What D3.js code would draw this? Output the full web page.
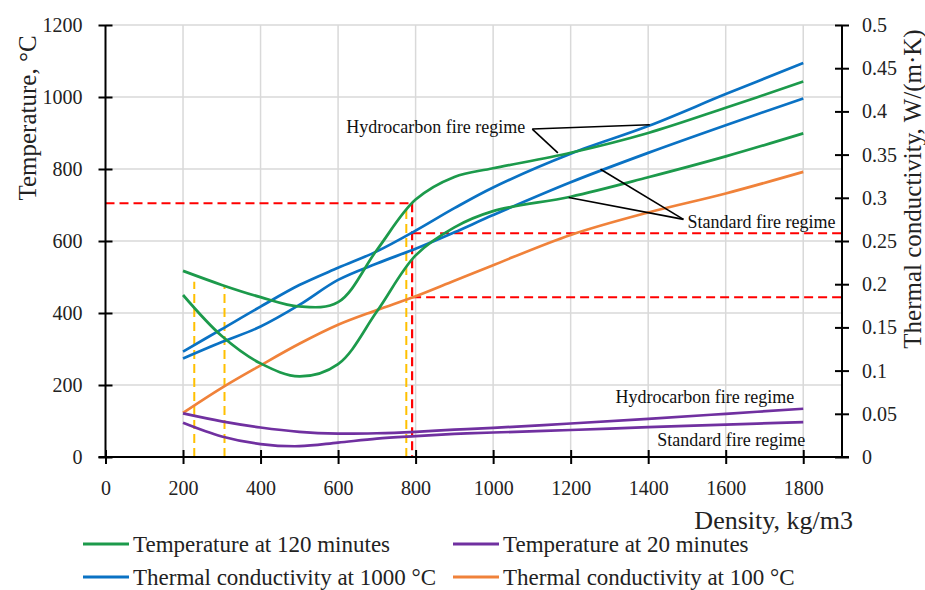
<!DOCTYPE html>
<html>
<head>
<meta charset="utf-8">
<script src="https://cdn.jsdelivr.net/npm/d3@7"></script>
<style>
  html, body { margin: 0; padding: 0; background: #fff; }
  svg { display: block; }
  svg text { font-family: "Liberation Serif", "DejaVu Serif", serif; }
</style>
</head>
<body>
<svg id="chart" width="925" height="590"></svg>
<script>
// ---------------- data ----------------
const density = [200, 300, 400, 500, 600, 700, 800, 900, 1000, 1200, 1400, 1600, 1800];
const temp120Hydro = [517, 478, 444, 418, 430, 575, 715, 778, 802, 845, 900, 970, 1043];
const temp120Std   = [450, 336, 260, 224, 258, 404, 560, 638, 683, 723, 777, 835, 899];
const temp20Hydro  = [121, 99, 82, 70, 65, 66, 70, 76, 81, 93, 106, 120, 134];
const temp20Std    = [95, 57, 36, 30, 40, 51, 58, 64, 68, 75, 83, 90, 97];
const k1000Hydro   = [0.122, 0.148, 0.174, 0.199, 0.219, 0.238, 0.262, 0.288, 0.312, 0.351, 0.383, 0.420, 0.456];
const k1000Std     = [0.114, 0.133, 0.151, 0.176, 0.205, 0.224, 0.241, 0.260, 0.280, 0.318, 0.352, 0.384, 0.415];
const k100         = [0.051, 0.080, 0.106, 0.131, 0.153, 0.170, 0.186, 0.204, 0.222, 0.257, 0.283, 0.305, 0.330];

const xTicks = [0, 200, 400, 600, 800, 1000, 1200, 1400, 1600, 1800];
const tTicks = [0, 200, 400, 600, 800, 1000, 1200];
const kTicks = [0, 0.05, 0.1, 0.15, 0.2, 0.25, 0.3, 0.35, 0.4, 0.45, 0.5];

// reference (dashed) lines
const redDensity = 791;       // kg/m3
const redTemp = 705;          // °C
const redK = [0.259, 0.185];  // W/(m·K)
const goldDensity = [229, 307, 776];
const goldTop = [487, 476, 689];

const legendNames = ["Temperature at 120 minutes", "Temperature at 20 minutes",
                     "Thermal conductivity at 1000 °C", "Thermal conductivity at 100 °C"];

// ---------------- layout ----------------
const FONT = '"Liberation Serif", "DejaVu Serif", serif';
const svg = d3.select("#chart");
const L = 105.5, R = 842, T = 25, B = 457;
const COL = { green: "#1C9A4B", purple: "#7030A0", blue: "#0A72C4", orange: "#F0823A",
              red: "#FF0000", gold: "#FFC000", grid: "#D9D9D9" };

const x = d3.scaleLinear().domain([0, 1900]).range([L, R]);
const yT = d3.scaleLinear().domain([0, 1200]).range([B, T]);
const yK = d3.scaleLinear().domain([0, 0.5]).range([B, T]);

// grid
const grid = svg.append("g");
grid.selectAll(".gv").data(xTicks.filter(d => d > 0)).join("line")
  .attr("x1", d => x(d)).attr("x2", d => x(d)).attr("y1", T).attr("y2", B)
  .attr("stroke", COL.grid).attr("stroke-width", 1.5);
grid.selectAll(".gh").data(tTicks.filter(d => d > 0)).join("line")
  .attr("x1", L).attr("x2", R).attr("y1", d => yT(d)).attr("y2", d => yT(d))
  .attr("stroke", COL.grid).attr("stroke-width", 1.5);

// dashed reference lines
const dash = "9,5";
svg.append("line").attr("x1", x(0)).attr("x2", x(redDensity))
  .attr("y1", yT(redTemp)).attr("y2", yT(redTemp))
  .attr("stroke", COL.red).attr("stroke-width", 2).attr("stroke-dasharray", dash);
svg.append("line").attr("x1", x(redDensity)).attr("x2", x(redDensity))
  .attr("y1", yT(redTemp)).attr("y2", yT(0))
  .attr("stroke", COL.red).attr("stroke-width", 2.2).attr("stroke-dasharray", dash);
redK.forEach(k => {
  svg.append("line").attr("x1", x(redDensity)).attr("x2", x(1900))
    .attr("y1", yK(k)).attr("y2", yK(k))
    .attr("stroke", COL.red).attr("stroke-width", 2).attr("stroke-dasharray", dash);
});
goldDensity.forEach((d, i) => {
  svg.append("line").attr("x1", x(d)).attr("x2", x(d))
    .attr("y1", yT(0)).attr("y2", yT(goldTop[i]))
    .attr("stroke", COL.gold).attr("stroke-width", 2).attr("stroke-dasharray", dash);
});

// curves
const curve = d3.curveCatmullRom.alpha(0.5);
const lineT = d3.line().x((d, i) => x(density[i])).y(d => yT(d)).curve(curve);
const lineK = d3.line().x((d, i) => x(density[i])).y(d => yK(d)).curve(curve);
const series = [
  { v: k100, f: lineK, c: COL.orange },
  { v: temp20Std, f: lineT, c: COL.purple },
  { v: temp20Hydro, f: lineT, c: COL.purple },
  { v: k1000Std, f: lineK, c: COL.blue },
  { v: k1000Hydro, f: lineK, c: COL.blue },
  { v: temp120Std, f: lineT, c: COL.green },
  { v: temp120Hydro, f: lineT, c: COL.green }
];
series.forEach(s => {
  svg.append("path").attr("d", s.f(s.v)).attr("fill", "none")
    .attr("stroke", s.c).attr("stroke-width", 2.7).attr("stroke-linejoin", "round");
});

// annotations
const ann = svg.append("g").attr("stroke", "#000").attr("stroke-width", 1.6).attr("fill", "none");
const hv = [x(1101), yT(911)];
ann.append("line").attr("x1", hv[0]).attr("y1", hv[1]).attr("x2", x(1404)).attr("y2", yK(0.3846));
ann.append("line").attr("x1", hv[0]).attr("y1", hv[1]).attr("x2", x(1167)).attr("y2", yT(845));
const sv = [x(1491), yT(660)];
ann.append("line").attr("x1", sv[0]).attr("y1", sv[1]).attr("x2", x(1277)).attr("y2", yK(0.333));
ann.append("line").attr("x1", sv[0]).attr("y1", sv[1]).attr("x2", x(1195)).attr("y2", yT(721));

const annText = (tx, ty, str, anchor) => svg.append("text").attr("x", tx).attr("y", ty)
  .attr("text-anchor", anchor).attr("dominant-baseline", "central")
  .attr("font-family", FONT).attr("font-size", 18).attr("fill", "#111").text(str);
annText(hv[0] - 7, 127, "Hydrocarbon fire regime", "end");
annText(sv[0] + 4, 222, "Standard fire regime", "start");
annText(x(1777), 397, "Hydrocarbon fire regime", "end");
annText(x(1805), 440, "Standard fire regime", "end");

// axes
const fs = 20;
const gL = svg.append("g").attr("transform", `translate(${L},0)`)
  .call(d3.axisLeft(yT).tickValues(tTicks).tickFormat(d3.format("d")).tickSize(7).tickPadding(16));
const gR = svg.append("g").attr("transform", `translate(${R},0)`)
  .call(d3.axisRight(yK).tickValues(kTicks).tickFormat(d => String(d)).tickSize(7).tickPadding(13));
const gB = svg.append("g").attr("transform", `translate(0,${B})`)
  .call(d3.axisBottom(x).tickValues(xTicks).tickFormat(d3.format("d")).tickSize(7).tickPadding(18));
[gL, gR, gB].forEach(g => {
  g.attr("font-family", FONT);
  g.select(".domain").remove();
  g.selectAll(".tick line").attr("stroke", "#000").attr("stroke-width", 2);
  g.selectAll(".tick text").attr("font-size", fs).attr("fill", "#222").attr("font-family", FONT);
});
gL.selectAll(".tick line").attr("x1", 7).attr("x2", -7);
gR.selectAll(".tick line").attr("x1", -7).attr("x2", 7);
gB.selectAll(".tick line").attr("y1", -7).attr("y2", 7);
gL.selectAll(".tick text").attr("x", -23);
gR.selectAll(".tick text").attr("x", 20);
gB.selectAll(".tick text").attr("y", 24);
svg.append("line").attr("x1", L).attr("x2", L).attr("y1", T).attr("y2", B)
  .attr("stroke", "#000").attr("stroke-width", 2);
svg.append("line").attr("x1", R).attr("x2", R).attr("y1", T).attr("y2", B)
  .attr("stroke", "#000").attr("stroke-width", 2);
svg.append("line").attr("x1", L - 7).attr("x2", R + 7).attr("y1", B).attr("y2", B)
  .attr("stroke", "#000").attr("stroke-width", 2);

// axis titles
svg.append("text").attr("transform", "translate(27,118) rotate(-90)")
  .attr("text-anchor", "middle").attr("dominant-baseline", "central").attr("font-family", FONT)
  .attr("font-size", 25).attr("fill", "#222").text("Temperature, °C");
svg.append("text").attr("transform", "translate(912,189) rotate(-90)")
  .attr("text-anchor", "middle").attr("dominant-baseline", "central").attr("font-family", FONT)
  .attr("font-size", 25).attr("fill", "#222").text("Thermal conductivity, W/(m·K)");
svg.append("text").attr("x", 853).attr("y", 520)
  .attr("text-anchor", "end").attr("dominant-baseline", "central").attr("font-family", FONT)
  .attr("font-size", 26).attr("fill", "#222").text("Density, kg/m3");

// legend
const legendColors = [COL.green, COL.purple, COL.blue, COL.orange];
const legX = [83, 453], legY = [544, 577];
legendNames.forEach((n, i) => {
  const lx = legX[i % 2], ly = legY[Math.floor(i / 2)];
  svg.append("line").attr("x1", lx).attr("x2", lx + 46).attr("y1", ly).attr("y2", ly)
    .attr("stroke", legendColors[i]).attr("stroke-width", 3);
  svg.append("text").attr("x", lx + 50).attr("y", ly).attr("font-family", FONT)
    .attr("dominant-baseline", "central").attr("font-size", 23).attr("fill", "#222").text(n);
});
</script>
</body>
</html>
